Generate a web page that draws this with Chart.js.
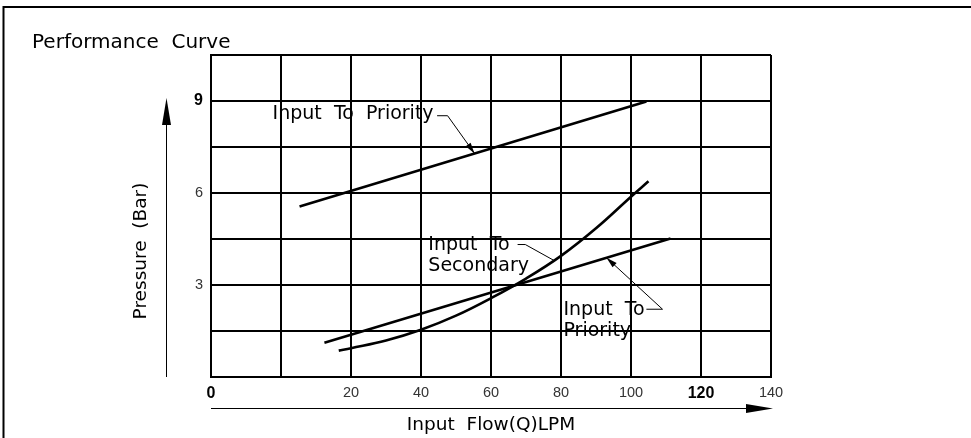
<!DOCTYPE html>
<html>
<head>
<meta charset="utf-8">
<title>Performance Curve</title>
<script src="https://cdn.jsdelivr.net/npm/chart.js@4.4.1/dist/chart.umd.min.js"></script>
<style>
  html, body { margin: 0; padding: 0; background: #fff; }
  canvas { display: block; }
</style>
</head>
<body>
<canvas id="chart" width="971" height="438"></canvas>
<script>
// Readings (flow in LPM, pressure in bar)
const priorityHighFlow = [5.3, 104.4];
const priorityHighPressure = [5.56, 8.98];

const priorityLowFlow = [12.4, 111.3];
const priorityLowPressure = [1.12, 4.52];

const secondaryFlow = [16.5, 20, 30, 40, 50, 60, 70, 80, 90, 100, 105];
const secondaryPressure = [0.86, 0.94, 1.19, 1.54, 2.00, 2.57, 3.21, 3.95, 4.85, 5.88, 6.38];

// The drawing labels its left edge "0" and leaves the next line blank
const xTickValues = [-20, 0, 20, 40, 60, 80, 100, 120, 140];
const xTickLabels = ['0', '', '20', '40', '60', '80', '100', '120', '140'];
const xBoldLabels = ['0', '120'];

const yTickValues = [0, 1.5, 3, 4.5, 6, 7.5, 9, 10.5];
const yTickLabels = ['', '', '3', '', '6', '', '9', ''];
const yBoldLabels = ['9'];

// Callouts: label lines, where the text starts, and the leader path to the curve
const callouts = [
    { lines: ['Input  To  Priority'], at: [-2.4, 8.58],
      leader: [[44.6, 8.52], [47.6, 8.52], [55.3, 7.29]], arrow: true },
    { lines: ['Input  To', 'Secondary'], at: [42.1, 4.29],
      leader: [[67.6, 4.32], [69.8, 4.32], [78.0, 3.80]], arrow: false },
    { lines: ['Input  To', 'Priority'], at: [80.7, 2.18],
      leader: [[104.4, 2.21], [109.0, 2.21], [93.0, 3.89]], arrow: true }
];

const cadFont = '"DejaVu Sans", sans-serif';
const numFont = '"Liberation Sans", Arial, sans-serif';

function toPoints(xs, ys) {
    return xs.map((x, i) => ({ x: x, y: ys[i] }));
}

function arrowHead(ctx, fromX, fromY, toX, toY, len, half) {
    const a = Math.atan2(toY - fromY, toX - fromX);
    ctx.beginPath();
    ctx.moveTo(toX, toY);
    ctx.lineTo(toX - len * Math.cos(a) + half * Math.sin(a), toY - len * Math.sin(a) - half * Math.cos(a));
    ctx.lineTo(toX - len * Math.cos(a) - half * Math.sin(a), toY - len * Math.sin(a) + half * Math.cos(a));
    ctx.closePath();
    ctx.fill();
}

// Frame, axis arrows, axis titles and the callouts
const drawingPlugin = {
    id: 'drawing',
    afterDraw(chart) {
        const ctx = chart.ctx;
        const area = chart.chartArea;
        const xs = chart.scales.x;
        const ys = chart.scales.y;
        ctx.save();
        ctx.strokeStyle = '#000';
        ctx.fillStyle = '#000';

        // sheet frame
        ctx.lineWidth = 2;
        ctx.beginPath();
        ctx.moveTo(3.5, chart.height);
        ctx.lineTo(3.5, 7);
        ctx.lineTo(chart.width, 7);
        ctx.stroke();

        // y arrow
        const ax = 166.5;
        ctx.lineWidth = 1;
        ctx.beginPath();
        ctx.moveTo(ax, area.bottom);
        ctx.lineTo(ax, 120);
        ctx.stroke();
        arrowHead(ctx, ax, area.bottom, ax, 98, 27, 4.5);

        // x arrow
        const ay = 408.5;
        ctx.beginPath();
        ctx.moveTo(area.left, ay);
        ctx.lineTo(area.right - 20, ay);
        ctx.stroke();
        arrowHead(ctx, area.left, ay, area.right + 2, ay, 27, 4.5);

        // axis titles
        ctx.font = '18.5px ' + cadFont;
        ctx.textAlign = 'center';
        ctx.textBaseline = 'middle';
        ctx.fillText('Input  Flow(Q)LPM', (area.left + area.right) / 2, 425);
        ctx.save();
        ctx.translate(141, 251);
        ctx.rotate(-Math.PI / 2);
        ctx.fillText('Pressure  (Bar)', 0, 0);
        ctx.restore();

        // callouts
        ctx.font = '19px ' + cadFont;
        ctx.textAlign = 'left';
        callouts.forEach(c => {
            const tx = xs.getPixelForValue(c.at[0]);
            const ty = ys.getPixelForValue(c.at[1]);
            c.lines.forEach((line, i) => ctx.fillText(line, tx, ty + i * 20.5));
            const pts = c.leader.map(p => [xs.getPixelForValue(p[0]), ys.getPixelForValue(p[1])]);
            ctx.lineWidth = 1;
            ctx.beginPath();
            pts.forEach((p, i) => i ? ctx.lineTo(p[0], p[1]) : ctx.moveTo(p[0], p[1]));
            ctx.stroke();
            if (c.arrow) {
                const a = pts[pts.length - 2];
                const b = pts[pts.length - 1];
                arrowHead(ctx, a[0], a[1], b[0], b[1], 11, 3);
            }
        });
        ctx.restore();
    }
};

const curveStyle = {
    borderColor: '#000',
    borderWidth: 2.6,
    pointRadius: 0,
    fill: false
};

function tickFont(label, bold, boldSize) {
    return bold.includes(label)
        ? { family: numFont, size: boldSize, weight: 'bold' }
        : { family: numFont, size: 14.5 };
}

new Chart(document.getElementById('chart'), {
    type: 'line',
    data: {
        datasets: [
            Object.assign({ label: 'Input To Priority (upper)', data: toPoints(priorityHighFlow, priorityHighPressure) }, curveStyle),
            Object.assign({ label: 'Input To Priority (lower)', data: toPoints(priorityLowFlow, priorityLowPressure) }, curveStyle),
            Object.assign({ label: 'Input To Secondary', data: toPoints(secondaryFlow, secondaryPressure),
                            tension: 0.4 }, curveStyle)
        ]
    },
    options: {
        responsive: false,
        animation: false,
        events: [],
        layout: { padding: { left: 32, right: 200, top: 0, bottom: 0 } },
        plugins: {
            legend: { display: false },
            tooltip: { enabled: false },
            title: {
                display: true,
                text: 'Performance  Curve',
                align: 'start',
                color: '#000',
                font: { family: cadFont, size: 20, weight: 'normal' },
                padding: { top: 31, bottom: 0 }
            }
        },
        scales: {
            x: {
                type: 'linear',
                min: -20,
                max: 140,
                afterBuildTicks: scale => { scale.ticks = xTickValues.map(v => ({ value: v })); },
                afterFit: scale => { scale.height = 61; },
                grid: { color: '#000', lineWidth: 2, drawTicks: false },
                border: { display: true, color: '#000', width: 2 },
                ticks: {
                    autoSkip: false,
                    maxRotation: 0,
                    padding: 7,
                    color: ctx => xBoldLabels.includes(xTickLabels[ctx.index]) ? '#000' : '#333',
                    font: ctx => tickFont(xTickLabels[ctx.index], xBoldLabels, 16),
                    callback: (value, index) => xTickLabels[index]
                }
            },
            y: {
                min: 0,
                max: 10.5,
                afterBuildTicks: scale => { scale.ticks = yTickValues.map(v => ({ value: v })); },
                afterFit: scale => { scale.width = 179; },
                grid: { color: '#000', lineWidth: 2, drawTicks: false },
                border: { display: true, color: '#000', width: 2 },
                ticks: {
                    autoSkip: false,
                    padding: 8,
                    color: ctx => yBoldLabels.includes(yTickLabels[ctx.index]) ? '#000' : '#333',
                    font: ctx => tickFont(yTickLabels[ctx.index], yBoldLabels, 16),
                    callback: (value, index) => yTickLabels[index]
                }
            }
        }
    },
    plugins: [drawingPlugin]
});
</script>
</body>
</html>
